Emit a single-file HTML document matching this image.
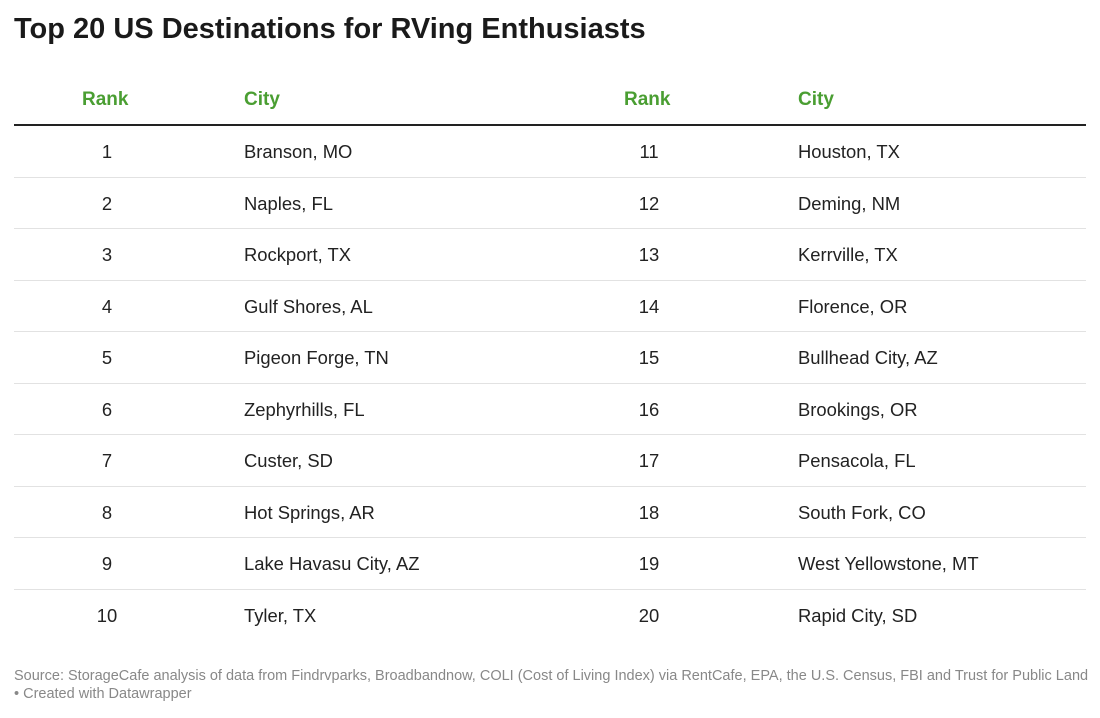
<!DOCTYPE html>
<html><head><meta charset="utf-8"><style>
body{margin:0;width:1100px;height:718px;background:#fff;font-family:"Liberation Sans",Arial,sans-serif;position:relative;overflow:hidden;color:#222}
.t{position:absolute;left:14px;top:13px;font-size:29px;font-weight:bold;color:#1a1a1a;letter-spacing:0}
.h{position:absolute;top:88px;font-size:19px;font-weight:bold;color:#4a9e32;line-height:24px}
.hl{position:absolute;left:14px;width:1072px;top:124px;height:2px;background:#222}
.row{position:absolute;left:14px;width:1072px;height:51.5px;border-bottom:1px solid #e2e2e2;box-sizing:border-box}
.c{position:absolute;top:0;line-height:52px;font-size:18.4px;color:#222}
.r1{left:53px;width:80px;text-align:center}
.c1{left:230px}
.r2{left:595px;width:80px;text-align:center}
.c2{left:784px}
.src{position:absolute;left:14px;top:667px;width:1075px;font-size:14.5px;line-height:18px;color:#888}
</style></head><body>
<div class="t">Top 20 US Destinations for RVing Enthusiasts</div>
<div class="h" style="left:82px">Rank</div>
<div class="h" style="left:244px">City</div>
<div class="h" style="left:624px">Rank</div>
<div class="h" style="left:798px">City</div>
<div class="hl"></div>
<div id="rows"></div>
<div class="src">Source: StorageCafe analysis of data from Findrvparks, Broadbandnow, COLI (Cost of Living Index) via RentCafe, EPA, the U.S. Census, FBI and Trust for Public Land • Created with Datawrapper</div>
<script>
const leftCities=["Branson, MO","Naples, FL","Rockport, TX","Gulf Shores, AL","Pigeon Forge, TN","Zephyrhills, FL","Custer, SD","Hot Springs, AR","Lake Havasu City, AZ","Tyler, TX"];
const rightCities=["Houston, TX","Deming, NM","Kerrville, TX","Florence, OR","Bullhead City, AZ","Brookings, OR","Pensacola, FL","South Fork, CO","West Yellowstone, MT","Rapid City, SD"];
const host=document.getElementById('rows');
for(let i=0;i<10;i++){
  const row=document.createElement('div');
  row.className='row';
  row.style.top=(126+i*51.5)+'px';
  if(i===9)row.style.borderBottom='none';
  
  
  const cells=[['r1',String(i+1)],['c1',leftCities[i]],['r2',String(i+11)],['c2',rightCities[i]]];
  for(const [cls,txt] of cells){
    const d=document.createElement('div');
    d.className='c '+cls;
    d.textContent=txt;
    
    
    row.appendChild(d);
  }
  host.appendChild(row);
}
</script>
</body></html>
